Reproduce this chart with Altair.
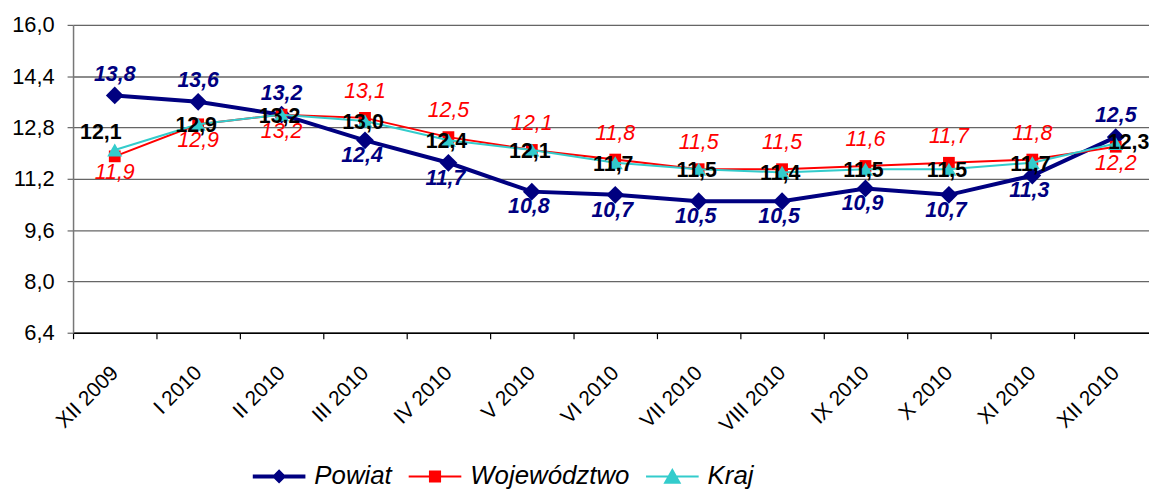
import altair as alt
import pandas as pd

months = ["XII 2009", "I 2010", "II 2010", "III 2010", "IV 2010", "V 2010", "VI 2010",
          "VII 2010", "VIII 2010", "IX 2010", "X 2010", "XI 2010", "XII 2010"]
series_names = ["Powiat", "Województwo", "Kraj"]
powiat = [13.8, 13.6, 13.2, 12.4, 11.7, 10.8, 10.7, 10.5, 10.5, 10.9, 10.7, 11.3, 12.5]
wojewodztwo = [11.9, 12.9, 13.2, 13.1, 12.5, 12.1, 11.8, 11.5, 11.5, 11.6, 11.7, 11.8, 12.2]
kraj = [12.1, 12.9, 13.2, 13.0, 12.4, 12.1, 11.7, 11.5, 11.4, 11.5, 11.5, 11.7, 12.3]
# label placement
powiat_pos = ["above"] * 3 + ["below"] * 9 + ["above"]
woj_pos = ["below"] * 3 + ["above"] * 9 + ["below"]
kraj_pos = ["above"] + ["center"] * 11 + ["right"]
y_ticks = [6.4, 8.0, 9.6, 11.2, 12.8, 14.4, 16.0]
colors = ["#000080", "#FF0000", "#33CCCC"]

rows = []
for name, vals, poss in [("Powiat", powiat, powiat_pos),
                         ("Województwo", wojewodztwo, woj_pos),
                         ("Kraj", kraj, kraj_pos)]:
    for m, v, p in zip(months, vals, poss):
        rows.append({"month": m, "series": name, "value": v, "pos": p})
df = pd.DataFrame(rows)

FONT = "Liberation Sans"
label_expr = "replace(format(datum.value, '.1f'), '.', ',')"

x_enc = alt.X(
    "month:N", sort=months,
    scale=alt.Scale(type="band", domain=months, range=[0, 1092], paddingInner=0, paddingOuter=0),
    axis=alt.Axis(title=None, labelAngle=-45, labelAlign="right", labelBaseline="middle",
                  labelFont=FONT, labelFontSize=21, labelColor="#000000", labelPadding=31,
                  tickBand="extent", tickSize=6, tickColor="#000000", tickWidth=1.2,
                  domainColor="#000000", domainWidth=1.5, grid=False, labelOverlap=False),
)
y_enc = alt.Y(
    "value:Q",
    scale=alt.Scale(domain=[6.4, 16.0], nice=False, zero=False),
    axis=alt.Axis(title=None, values=y_ticks, labelExpr=label_expr, labelFont=FONT,
                  labelFontSize=22, labelColor="#000000", labelPadding=13,
                  tickSize=6, tickColor="#666666", tickWidth=1.2,
                  domainColor="#777777", domainWidth=1.5,
                  grid=True, gridColor="#666666", gridWidth=1.3),
)

base = alt.Chart(df).encode(x=x_enc, y=y_enc).transform_calculate(label=label_expr)

line_w = {"Powiat": 4, "Województwo": 2, "Kraj": 2}
shapes = {"Powiat": ("diamond", 320), "Województwo": ("square", 140), "Kraj": ("triangle-up", 230)}

layers = []
for name, col in zip(series_names, colors):
    sub = base.transform_filter(alt.datum.series == name)
    layers.append(sub.mark_line(color=col, strokeWidth=line_w[name]))
    shp, sz = shapes[name]
    layers.append(sub.mark_point(shape=shp, size=sz, filled=True, opacity=1, color=col))

text_styles = {
    "Powiat": dict(color="#000080", fontWeight="bold", fontStyle="italic",
                   offsets={"above": (0, -21), "below": (-3, 16)}),
    "Województwo": dict(color="#FF0000", fontWeight="normal", fontStyle="italic",
                        offsets={"above": (0, -26), "below": (0, 17)}),
    "Kraj": dict(color="#000000", fontWeight="bold", fontStyle="normal",
                 offsets={"above": (-14, -17), "center": (-2, 2), "right": (13, 0)}),
}
for name in series_names:
    st = text_styles[name]
    for pos, (dx, dy) in st["offsets"].items():
        layers.append(
            base.transform_filter((alt.datum.series == name) & (alt.datum.pos == pos))
            .mark_text(font=FONT, fontSize=21.5, fontWeight=st["fontWeight"],
                       fontStyle=st["fontStyle"], color=st["color"],
                       dx=dx, dy=dy, baseline="middle", align="center")
            .encode(text="label:N")
        )

legend_paths = [
    "M-1,-0.075H1V0.075H-1Z M0,-0.27L0.27,0L0,0.27L-0.27,0Z",
    "M-1,-0.04H1V0.04H-1Z M-0.23,-0.23H0.23V0.23H-0.23Z",
    "M-1,-0.04H1V0.04H-1Z M0,-0.32L0.34,0.28H-0.34Z",
]
legend_cfg = dict(title=None, orient="none", legendX=181, legendY=428,
                  direction="horizontal", labelFont=FONT,
                  labelFontSize=26, labelFontStyle="italic",
                  labelColor="#000000", labelOffset=9, labelLimit=400,
                  columnPadding=16, symbolSize=2809,
                  symbolStrokeWidth=0, padding=0)
legend_layer = (
    base.transform_filter("false")
    .mark_point(filled=True, opacity=1)
    .encode(
        color=alt.Color("series:N", scale=alt.Scale(domain=series_names, range=colors),
                        legend=alt.Legend(**legend_cfg)),
        shape=alt.Shape("series:N", scale=alt.Scale(domain=series_names, range=legend_paths),
                        legend=alt.Legend(**legend_cfg)),
    )
)
layers.append(legend_layer)

chart = (
    alt.layer(*layers)
    .properties(width=1083.5, height=310,
                autosize=alt.AutoSizeParams(type="none"),
                padding={"left": 65.5, "top": 15.3, "right": 0, "bottom": 160})
    .configure_view(stroke=None)
    .configure(background="white")
)

chart.save("out.html", embed_options={"renderer": "svg", "actions": False})
